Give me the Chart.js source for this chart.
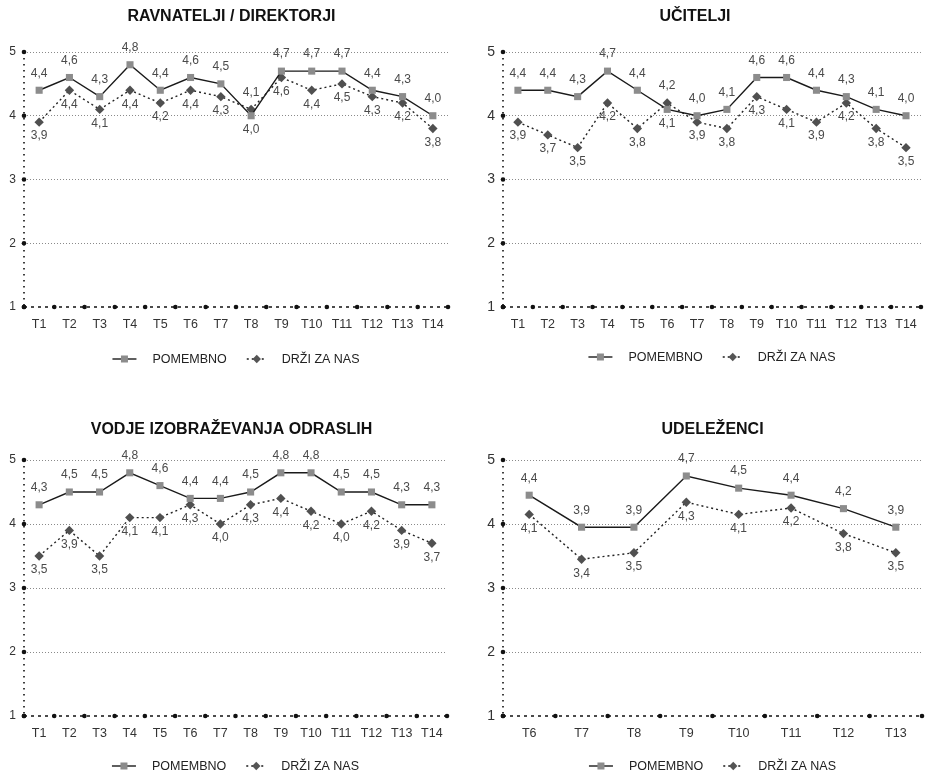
<!DOCTYPE html>
<html>
<head>
<meta charset="utf-8">
<script src="https://cdn.jsdelivr.net/npm/chart.js@4.4.0/dist/chart.umd.min.js"></script>
<style>
  body { margin: 0; background: #fff; width: 927px; height: 774px; position: relative; overflow: hidden; }
  canvas { position: absolute; }
</style>
</head>
<body>
<canvas id="c1" width="463" height="387" style="left:0;top:0"></canvas>
<canvas id="c2" width="464" height="387" style="left:463px;top:0"></canvas>
<canvas id="c3" width="463" height="360" style="left:0;top:414px"></canvas>
<canvas id="c4" width="464" height="360" style="left:463px;top:414px"></canvas>
<script>
// Kategorije (trditve)
const labelsAll = ['T1', 'T2', 'T3', 'T4', 'T5', 'T6', 'T7', 'T8', 'T9', 'T10', 'T11', 'T12', 'T13', 'T14'];
const labelsUdelezenci = ['T6', 'T7', 'T8', 'T9', 'T10', 'T11', 'T12', 'T13'];

const seriesNames = ['POMEMBNO', 'DRŽI ZA NAS'];
const yTicks = [1, 2, 3, 4, 5];

// RAVNATELJI / DIREKTORJI
const ravnateljiPomembno = [4.4, 4.6, 4.3, 4.8, 4.4, 4.6, 4.5, 4.0, 4.7, 4.7, 4.7, 4.4, 4.3, 4.0];
const ravnateljiDrzi     = [3.9, 4.4, 4.1, 4.4, 4.2, 4.4, 4.3, 4.1, 4.6, 4.4, 4.5, 4.3, 4.2, 3.8];

// UČITELJI
const uciteljiPomembno = [4.4, 4.4, 4.3, 4.7, 4.4, 4.1, 4.0, 4.1, 4.6, 4.6, 4.4, 4.3, 4.1, 4.0];
const uciteljiDrzi     = [3.9, 3.7, 3.5, 4.2, 3.8, 4.2, 3.9, 3.8, 4.3, 4.1, 3.9, 4.2, 3.8, 3.5];

// VODJE IZOBRAŽEVANJA ODRASLIH
const vodjePomembno = [4.3, 4.5, 4.5, 4.8, 4.6, 4.4, 4.4, 4.5, 4.8, 4.8, 4.5, 4.5, 4.3, 4.3];
const vodjeDrzi     = [3.5, 3.9, 3.5, 4.1, 4.1, 4.3, 4.0, 4.3, 4.4, 4.2, 4.0, 4.2, 3.9, 3.7];

// UDELEŽENCI (T6 - T13), vrednosti odčitane s slike, oznake so odrezane na eno decimalko
const udelezenciPomembno = [4.45, 3.95, 3.95, 4.75, 4.56, 4.45, 4.24, 3.95];
const udelezenciDrzi     = [4.15, 3.45, 3.55, 4.34, 4.15, 4.25, 3.85, 3.55];

const FONT = "'Liberation Sans', Arial, sans-serif";

// oznaka vrednosti z decimalno vejico (odrezano na eno decimalko)
function fmt(v) {
    return (Math.floor(v * 10 + 1e-6) / 10).toFixed(1).replace('.', ',');
}

// Vtičnik za naslov, osi s pikami, oznake vrednosti in legendo
const decorPlugin = {
    id: 'decor',
    beforeDatasetsDraw(chart) {
        const { ctx, chartArea: a } = chart;
        ctx.save();
        ctx.strokeStyle = '#111';
        // navpična os (pikčasta)
        ctx.lineWidth = 1.6;
        ctx.setLineDash([1.6, 4.4]);
        ctx.beginPath();
        ctx.moveTo(a.left, a.top);
        ctx.lineTo(a.left, a.bottom);
        ctx.stroke();
        // vodoravna os (črtkana)
        ctx.lineWidth = 1.3;
        ctx.setLineDash([3, 4]);
        ctx.beginPath();
        ctx.moveTo(a.left, a.bottom);
        ctx.lineTo(a.right, a.bottom);
        ctx.stroke();
        ctx.restore();
    },
    afterDraw(chart, args, opts) {
        const { ctx, chartArea: a } = chart;
        const xs = chart.scales.x, ys = chart.scales.y;
        ctx.save();

        // pike na oseh
        ctx.fillStyle = '#111';
        yTicks.forEach(v => {
            ctx.beginPath();
            ctx.arc(a.left, ys.getPixelForValue(v), 2.3, 0, Math.PI * 2);
            ctx.fill();
        });
        const n = chart.data.labels.length;
        const step = (xs.right - xs.left) / n;
        for (let i = 0; i <= n; i++) {
            ctx.beginPath();
            ctx.arc(xs.left + i * step, a.bottom, 2.3, 0, Math.PI * 2);
            ctx.fill();
        }

        // oznake vrednosti
        const d0 = chart.data.datasets[0].data, d1 = chart.data.datasets[1].data;
        const m0 = chart.getDatasetMeta(0).data, m1 = chart.getDatasetMeta(1).data;
        ctx.font = opts.labelSize + 'px ' + FONT;
        ctx.fillStyle = '#4a4a4a';
        ctx.textAlign = 'center';
        ctx.textBaseline = 'middle';
        for (let i = 0; i < d0.length; i++) {
            const up0 = d0[i] >= d1[i];
            ctx.fillText(fmt(d0[i]), m0[i].x, m0[i].y + (up0 ? -17 : 14));
            ctx.fillText(fmt(d1[i]), m1[i].x, m1[i].y + (up0 ? 14 : -17));
        }

        // naslov
        ctx.font = 'bold 16px ' + FONT;
        ctx.fillStyle = '#111';
        const tx = opts.titleOnArea ? (a.left + a.right) / 2 : chart.width / 2;
        ctx.fillText(opts.title, tx, opts.titleY);

        // legenda
        ctx.font = '12.5px ' + FONT;
        const w1 = ctx.measureText(seriesNames[0]).width;
        const w2 = ctx.measureText(seriesNames[1]).width;
        const total = 24 + 16 + w1 + 20 + 20 + 15 + w2;
        let x = (a.left + a.right) / 2 - total / 2;
        const y = opts.legendY;
        // POMEMBNO
        ctx.strokeStyle = '#1a1a1a';
        ctx.lineWidth = 1.4;
        ctx.beginPath(); ctx.moveTo(x, y); ctx.lineTo(x + 24, y); ctx.stroke();
        ctx.fillStyle = '#8c8c8c';
        ctx.fillRect(x + 12 - 3.5, y - 3.5, 7, 7);
        x += 24 + 16;
        ctx.fillStyle = '#222';
        ctx.textAlign = 'left';
        ctx.fillText(seriesNames[0], x, y + 0.5);
        x += w1 + 20;
        // DRŽI ZA NAS
        ctx.setLineDash([2, 3]);
        ctx.beginPath(); ctx.moveTo(x, y); ctx.lineTo(x + 20, y); ctx.stroke();
        ctx.setLineDash([]);
        ctx.fillStyle = '#555';
        ctx.beginPath();
        ctx.moveTo(x + 10, y - 4.2); ctx.lineTo(x + 14.2, y);
        ctx.lineTo(x + 10, y + 4.2); ctx.lineTo(x + 5.8, y);
        ctx.closePath(); ctx.fill();
        x += 20 + 15;
        ctx.fillStyle = '#222';
        ctx.fillText(seriesNames[1], x, y + 0.5);

        ctx.restore();
    }
};

function makeChart(id, labels, pomembno, drzi, p) {
    return new Chart(document.getElementById(id), {
        type: 'line',
        data: {
            labels: labels,
            datasets: [{
                label: seriesNames[0],
                data: pomembno,
                borderColor: '#1a1a1a',
                borderWidth: 1.4,
                pointStyle: 'rect',
                pointRadius: 5,
                pointBackgroundColor: '#8c8c8c',
                pointBorderColor: '#8c8c8c',
                pointBorderWidth: 0,
                tension: 0
            }, {
                label: seriesNames[1],
                data: drzi,
                borderColor: '#222',
                borderWidth: 1.4,
                borderDash: [2, 3],
                pointStyle: 'rectRot',
                pointRadius: 4.7,
                pointBackgroundColor: '#505050',
                pointBorderColor: '#505050',
                pointBorderWidth: 0,
                tension: 0
            }]
        },
        options: {
            responsive: false,
            animation: false,
            layout: { padding: p.padding },
            plugins: {
                legend: { display: false },
                title: { display: false },
                tooltip: { enabled: false },
                decor: p.decor
            },
            scales: {
                x: {
                    offset: true,
                    grid: { display: false, drawTicks: false },
                    border: { display: false },
                    ticks: { color: '#333', font: { family: FONT, size: 12.5 }, padding: 10, maxRotation: 0, autoSkip: false },
                    afterFit: s => { s.height = 30; }
                },
                y: {
                    min: 1, max: 5,
                    afterBuildTicks: s => { s.ticks = yTicks.map(v => ({ value: v })); },
                    grid: {
                        drawTicks: false,
                        lineWidth: 1,
                        color: c => (c.tick && c.tick.value === 1) ? 'rgba(0,0,0,0)' : '#8a8a8a'
                    },
                    border: { display: false, dash: [1, 2] },
                    ticks: { color: '#333', font: { family: FONT, size: p.yFont }, padding: p.yPad },
                    afterFit: s => { s.width = 24; }
                }
            }
        },
        plugins: [decorPlugin]
    });
}

makeChart('c1', labelsAll, ravnateljiPomembno, ravnateljiDrzi, {
    padding: { left: 0, top: 52, right: 15, bottom: 50 }, yFont: 12, yPad: 8,
    decor: { title: 'RAVNATELJI / DIREKTORJI', titleY: 17, legendY: 359, labelSize: 12 }
});
makeChart('c2', labelsAll, uciteljiPomembno, uciteljiDrzi, {
    padding: { left: 16, top: 52, right: 6, bottom: 50 }, yFont: 14, yPad: 8,
    decor: { title: 'UČITELJI', titleY: 17, legendY: 357, labelSize: 12 }
});
makeChart('c3', labelsAll, vodjePomembno, vodjeDrzi, {
    padding: { left: 0, top: 46, right: 16, bottom: 28 }, yFont: 12, yPad: 8,
    decor: { title: 'VODJE IZOBRAŽEVANJA ODRASLIH', titleY: 16, legendY: 352, labelSize: 12 }
});
makeChart('c4', labelsUdelezenci, udelezenciPomembno, udelezenciDrzi, {
    padding: { left: 16, top: 46, right: 0, bottom: 28 }, yFont: 14, yPad: 8,
    decor: { title: 'UDELEŽENCI', titleY: 16, legendY: 352, labelSize: 12, titleOnArea: true }
});
</script>
</body>
</html>
